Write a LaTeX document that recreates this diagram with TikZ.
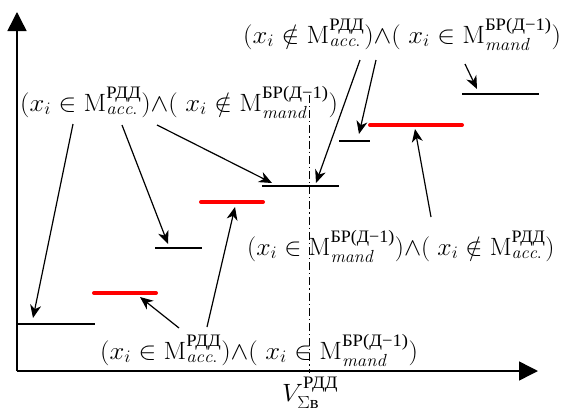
\RequirePackage{fix-cm}
\documentclass[tikz,border=0pt]{standalone}
\usepackage{amsmath}
\usepackage{graphicx}
\usepackage{fontspec}
\newfontfamily\cyrf{Liberation Serif}
\usetikzlibrary{arrows.meta}
\newcommand{\Macc}{\mathrm{M}^{\text{\cyrf РДД}}_{\mathit{acc.}}}
\newcommand{\Mmand}{\mathrm{M}^{\text{\cyrf БР(Д−1)}}_{\mathit{mand}}}
\newcommand{\wide}[1]{\scalebox{1.065}[1]{#1}}
\begin{document}
\begin{tikzpicture}[x=1pt,y=-1pt,
  lbl/.style={inner sep=0pt,anchor=base west,font=\fontsize{25}{28}\selectfont},
  lvl/.style={line width=1.5pt,black},
  redlvl/.style={line width=4pt,red,line cap=round},
  axis/.style={line width=1.5pt,-{Triangle[length=19pt,width=19pt]}},
  ptr/.style={line width=1.2pt,-{Stealth[length=13pt,width=11pt,inset=4pt]}}]
\useasboundingbox (0,0) rectangle (566,410);
% axes
\coordinate (O) at (17,371);
\coordinate (Ytop) at (17,12);
\coordinate (Xend) at (538,371);
\draw[axis] (O) -- (Ytop);
\draw[axis] (O) -- (Xend);
% dash-dot vertical
\coordinate (Vtop) at (309,95);
\coordinate (Vbot) at (309,373);
\draw[line width=1pt,dash pattern=on 8pt off 3pt on 1.2pt off 3pt] (Vtop) -- (Vbot);
% levels
\coordinate (l1a) at (17,324);  \coordinate (l1b) at (95,324);
\coordinate (l2a) at (94,293);  \coordinate (l2b) at (156,293);
\coordinate (l3a) at (155,248); \coordinate (l3b) at (202,248);
\coordinate (l4a) at (201,202); \coordinate (l4b) at (263,202);
\coordinate (l5a) at (262,186); \coordinate (l5b) at (339,186);
\coordinate (l6a) at (339,141); \coordinate (l6b) at (370,141);
\coordinate (l7a) at (370,125); \coordinate (l7b) at (462,125);
\coordinate (l8a) at (462,94);  \coordinate (l8b) at (539,94);
\draw[lvl] (l1a) -- (l1b);
\draw[redlvl] (l2a) -- (l2b);
\draw[lvl] (l3a) -- (l3b);
\draw[redlvl] (l4a) -- (l4b);
\draw[lvl] (l5a) -- (l5b);
\draw[lvl] (l6a) -- (l6b);
\draw[redlvl] (l7a) -- (l7b);
\draw[lvl] (l8a) -- (l8b);
% labels
\node[lbl] (top) at (243,43) {\wide{$(x_i \notin \Macc){\wedge}(\;x_i \in \Mmand)$}};
\node[lbl] (left) at (20,111) {\wide{$(x_i \in \Macc){\wedge}(\;x_i \notin \Mmand)$}};
\node[lbl] (right) at (247,255) {\scalebox{1.03}[1]{$(x_i \in \Mmand){\wedge}(\;x_i \notin \Macc)$}};
\node[lbl] (bot) at (100,359) {\wide{$(x_i \in \Macc){\wedge}(\;x_i \in \Mmand)$}};
\node[lbl] (vlab) at (282,401) {\wide{$V^{\text{\cyrf РДД}}_{\Sigma\text{\cyrf в}}$}};
% pointer arrows
\coordinate (a1s) at (73,124);  \coordinate (a1e) at (33,318);
\coordinate (a2s) at (122,125); \coordinate (a2e) at (168,244);
\coordinate (a3s) at (157,125); \coordinate (a3e) at (272,183);
\coordinate (b1s) at (360,60);  \coordinate (b1e) at (316,183);
\coordinate (b2s) at (376,60);  \coordinate (b2e) at (359,134);
\coordinate (b3s) at (465,64);  \coordinate (b3e) at (477,89);
\coordinate (c1s) at (431,217); \coordinate (c1e) at (415,129);
\coordinate (d1s) at (179,328); \coordinate (d1e) at (140,297);
\coordinate (d2s) at (207,327); \coordinate (d2e) at (235,207);
\foreach \p in {a1,a2,a3,b1,b2,b3,c1,d1,d2}
  \draw[ptr] (\p s) -- (\p e);
\end{tikzpicture}
\end{document}
